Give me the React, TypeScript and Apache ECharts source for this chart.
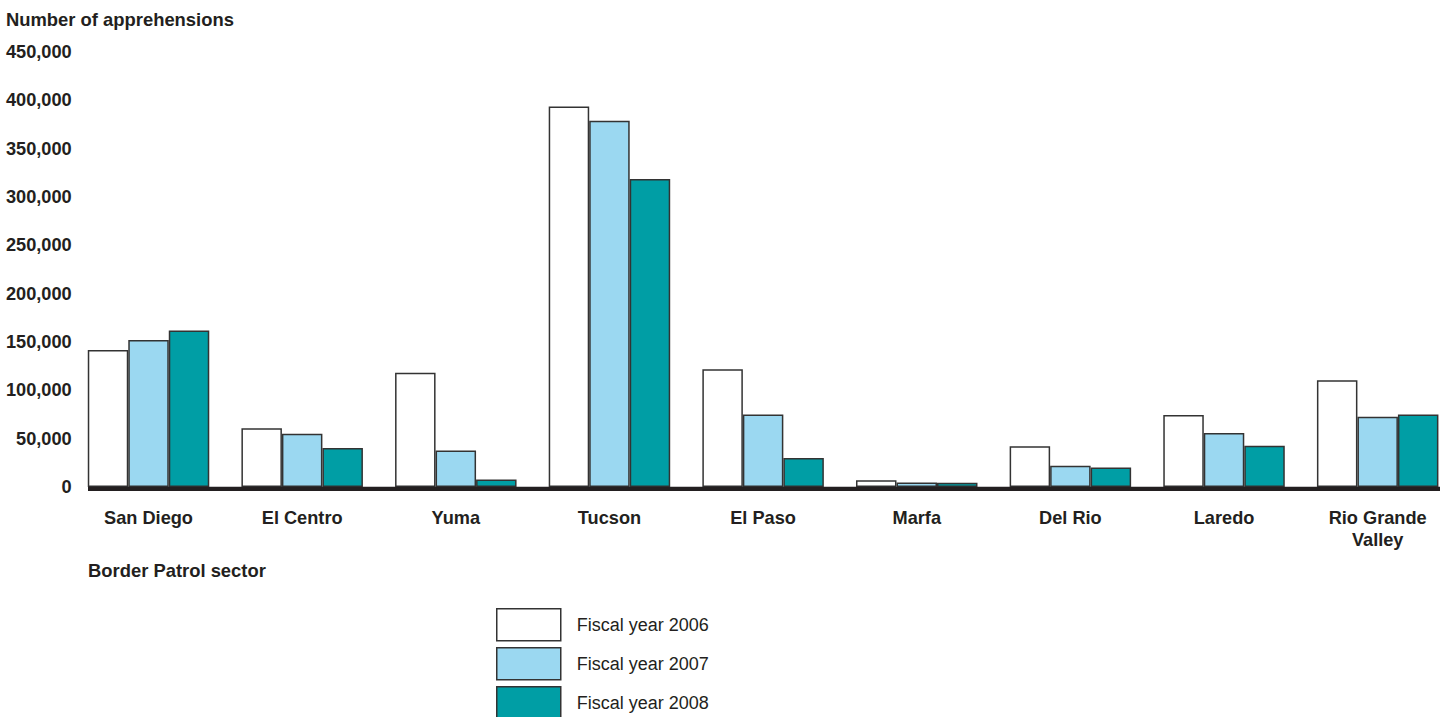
import React, { useEffect, useRef } from "react";
import * as echarts from "echarts";

const sectors = ["San Diego", "El Centro", "Yuma", "Tucson", "El Paso", "Marfa", "Del Rio", "Laredo", "Rio Grande\nValley"];
const fy2006 = [141700, 60700, 118300, 393500, 121800, 6900, 42100, 74500, 110400];
const fy2007 = [152000, 55200, 37700, 379000, 74900, 4600, 22100, 55900, 72800];
const fy2008 = [162000, 40300, 7700, 318600, 30000, 4500, 20100, 42800, 74900];
const seriesNames = ["Fiscal year 2006", "Fiscal year 2007", "Fiscal year 2008"];
const seriesColors = ["#ffffff", "#9bd8f1", "#009ea5"];

const FONT = "'Liberation Sans', Arial, Helvetica, sans-serif";
const TEXT = "#231f20";

export default function App() {
  const ref = useRef<HTMLDivElement>(null);
  useEffect(() => {
    document.body.style.margin = "0";
    document.body.style.overflow = "hidden";
    const chart = echarts.init(ref.current!, null, { renderer: "svg" });
    const mk = (i: number, data: number[]) => ({
      name: seriesNames[i],
      type: "bar",
      data,
      barWidth: 40.5,
      barGap: "0%",
      itemStyle: { color: seriesColors[i], borderColor: "#333333", borderWidth: 1.5 },
    });
    const legendTops = [608, 647, 686];
    chart.setOption({
      animation: false,
      textStyle: { fontFamily: FONT },
      title: [
        { text: "Number of apprehensions", left: 6, top: 10, padding: 0, textStyle: { fontSize: 18.4, fontWeight: "bold", color: TEXT, fontFamily: FONT } },
        { text: "Border Patrol sector", left: 88, top: 561, padding: 0, textStyle: { fontSize: 18.4, fontWeight: "bold", color: TEXT, fontFamily: FONT } },
      ],
      grid: { left: 71.7, right: 7.5, top: 52, bottom: 230, containLabel: false },
      xAxis: {
        type: "category",
        data: sectors,
        axisLine: { show: false },
        axisTick: { show: false },
        axisLabel: { margin: 20, fontSize: 18.2, fontWeight: "bold", color: TEXT, lineHeight: 22, fontFamily: FONT, interval: 0 },
      },
      yAxis: {
        type: "value",
        min: 0,
        max: 450000,
        interval: 50000,
        axisLine: { show: false },
        axisTick: { show: false },
        splitLine: { show: false },
        axisLabel: {
          margin: 0,
          fontSize: 18.2,
          fontWeight: "bold",
          color: TEXT,
          fontFamily: FONT,
          formatter: (v: number) => v.toLocaleString("en-US"),
        },
      },
      legend: seriesNames.map((n, i) => ({
        orient: "vertical",
        left: 496,
        top: legendTops[i],
        padding: 0,
        itemWidth: 64,
        itemHeight: 32,
        icon: "rect",
        itemStyle: { borderColor: "#333333", borderWidth: 1.5 },
        textStyle: { fontSize: 18, color: TEXT, fontFamily: FONT, padding: [14, 0, 0, 11] },
        data: [n],
      })),
      graphic: [
        { type: "rect", shape: { x: 88, y: 486.7, width: 1352, height: 4.2 }, style: { fill: TEXT }, z: 100 },
      ],
      series: [mk(0, fy2006), mk(1, fy2007), mk(2, fy2008)],
    });
    return () => chart.dispose();
  }, []);
  return <div ref={ref} style={{ width: 1462, height: 717 }} />;
}
